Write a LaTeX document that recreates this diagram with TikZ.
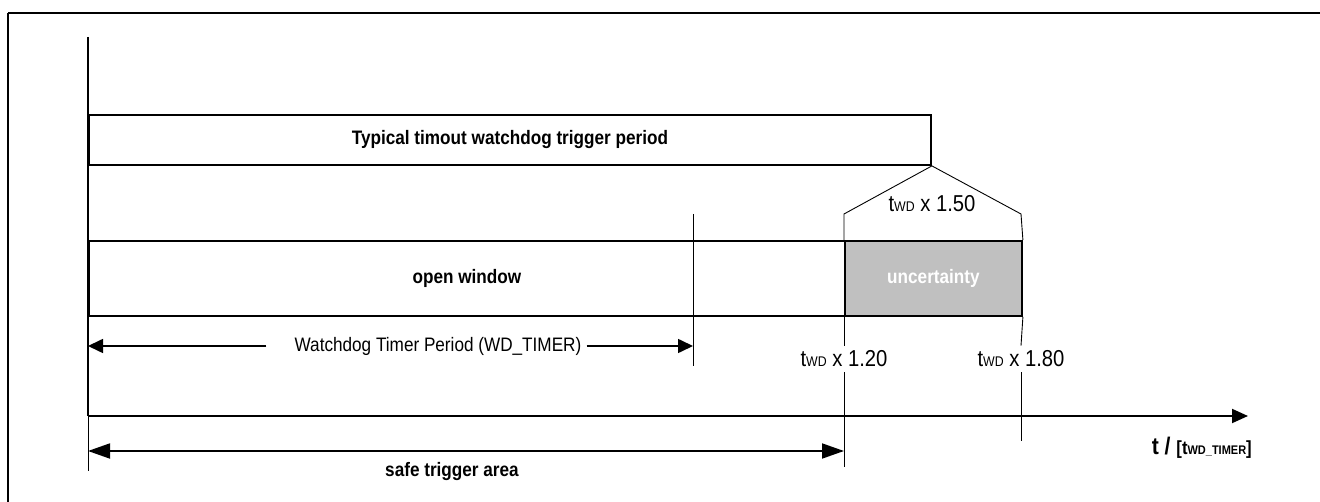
\documentclass[tikz,border=0pt]{standalone}
\usepackage{fontspec}
\setmainfont{Liberation Sans}[FakeStretch=0.88]
\usetikzlibrary{arrows.meta,positioning,calc}
\definecolor{uncgray}{RGB}{192,192,192}
\newcommand{\twd}[1]{t{\fontsize{14}{14}\selectfont WD} x #1}

\begin{document}
\begin{tikzpicture}[x=1pt,y=-1pt,
    frameln/.style={line width=1.4pt},
    heavy/.style={line width=1.9pt},
    light/.style={line width=0.9pt},
    dimarrow/.style={line width=1.6pt,-{Triangle[length=15pt,width=14pt]}},
    bigarrow/.style={line width=1.8pt,{Triangle[length=22pt,width=15pt]}-{Triangle[length=22pt,width=15pt]}},
    boldtxt/.style={font=\fontsize{19.5}{20}\selectfont\bfseries},
    plaintxt/.style={font=\fontsize{19.5}{20}\selectfont},
    twdtxt/.style={font=\fontsize{23}{24}\selectfont, inner xsep=1pt, inner ysep=5pt},
    band/.style={draw, heavy, anchor=north west, minimum height=#1, inner sep=0pt}]
  \useasboundingbox (0,0) rectangle (1320,502);
  \draw[frameln] (8,13) -- (1320,13);
  \draw[frameln] (8,13) -- (8,502);

  \coordinate (ytop) at (88,37);
  \coordinate (orig) at (88,416);
  \coordinate (xend) at (1248,416);
  \coordinate (ybot) at (88,471);

  \node[band=50pt, boldtxt, minimum width=842pt] (typ) at (88,114)
    {Typical timout watchdog trigger period};
  \node[band=75pt, boldtxt, minimum width=756pt] (open) at (88,240) {open window};
  \node[band=75pt, boldtxt, minimum width=177pt, fill=uncgray, text=white] (unc)
    at (844,240) {uncertainty};

  \coordinate (l15) at (844,214);
  \coordinate (r15) at (1021,214);
  \draw[light] (unc.north west) -- (l15) -- (typ.south east) -- (r15) -- (unc.north east);
  \node[twdtxt] (t15) at (932,204) {\twd{1.50}};

  \coordinate (wdtop) at (693,214);
  \coordinate (wdbot) at (693,366);
  \draw[light] (wdtop) -- (wdbot);

  \node[twdtxt] (t12) at (844,359) {\twd{1.20}};
  \node[twdtxt] (t18) at (1021,359) {\twd{1.80}};
  \coordinate (e12) at (844,467);
  \coordinate (e18) at (1021,441);
  \draw[light] (unc.south west) -- (t12.north);
  \draw[light] (t12.south) -- (e12);
  \draw[light] (unc.south east) -- (t18.north);
  \draw[light] (t18.south) -- (e18);

  \coordinate (wdA) at (88,346);
  \coordinate (wdB) at (693,346);
  \node[plaintxt, inner sep=0pt] (wdtxt) at (438,346) {Watchdog Timer Period (WD\_TIMER)};
  \draw[dimarrow] ([xshift=-28pt]wdtxt.west) -- (wdA);
  \draw[dimarrow] ([xshift=5pt]wdtxt.east) -- (wdB);

  \draw[heavy] (ytop) -- (orig);
  \draw[light] (orig) -- (ybot);
  \draw[heavy, -{Triangle[length=16pt,width=14pt]}] (orig) -- (xend);

  \coordinate (safeA) at (88,451);
  \coordinate (safeB) at (844,451);
  \draw[bigarrow] (safeA) -- (safeB);
  \node[boldtxt] (safe) at (452,472) {safe trigger area};

  \node[anchor=base east, inner sep=0pt] (tunit) at (1252,454)
    {\fontsize{24}{24}\selectfont\bfseries t / {\fontsize{19}{19}\selectfont[t{\fontsize{12.5}{12.5}\selectfont WD\_TIMER}]}};
\end{tikzpicture}
\end{document}
